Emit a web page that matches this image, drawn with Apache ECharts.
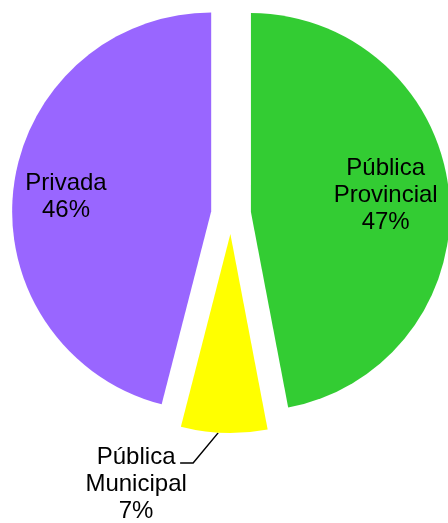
<!DOCTYPE html>
<html>
<head>
<meta charset="utf-8">
<script src="https://cdn.jsdelivr.net/npm/echarts@6/dist/echarts.min.js"></script>
<style>
  html, body { margin: 0; padding: 0; background: #fff; }
  #chart { width: 448px; height: 523px; }
</style>
</head>
<body>
<div id="chart"></div>
<script>
// slices in clockwise order starting at 12 o'clock
const categories = ['Pública\nProvincial', 'Pública\nMunicipal', 'Privada']
const shares = [47, 7, 46]
const colors = ['#33CC33', '#FFFF00', '#9966FF']

const pieCenter = [231, 214]
const pieRadius = 199
const explode = 20

let myChart = echarts.init(document.getElementById('chart'))

let total = shares.reduce(function (a, b) { return a + b }, 0)

// middle angle of a slice, radians clockwise from top
function midAngle (idx) {
  let before = 0
  for (let i = 0; i < idx; i++) before += shares[i]
  return (before + shares[idx] / 2) / total * Math.PI * 2
}

let pieData = categories.map(function (name, i) {
  let item = {
    name: name,
    value: shares[i],
    selected: true,
    itemStyle: { color: colors[i] }
  }
  if (i === 1) {
    // small slice gets its label outside with a leader line
    item.label = { position: 'outside', align: 'center' }
    item.labelLine = {
      show: true,
      length: 20,
      length2: 10,
      lineStyle: { color: '#000', width: 1.5 }
    }
  }
  return item
})

var option = {
  animation: false,
  series: [{
    type: 'pie',
    center: pieCenter,
    radius: pieRadius,
    startAngle: 90,
    clockwise: true,
    selectedMode: 'multiple',
    selectedOffset: explode,
    avoidLabelOverlap: false,
    label: {
      show: true,
      position: 'inside',
      formatter: '{b}\n{c}%',
      color: '#000',
      fontFamily: 'Liberation Sans, Arial, sans-serif',
      fontSize: 24,
      lineHeight: 27,
      align: 'center',
      textBorderWidth: 0
    },
    labelLine: { show: false },
    emphasis: { scale: false },
    labelLayout: function (p) {
      let a = midAngle(p.dataIndex)
      let dir = [Math.sin(a), -Math.cos(a)]
      if (p.dataIndex === 1 && p.labelLinePoints) {
        // leader line: from the outer arc down-left, then a short horizontal tail
        // (points and label rect are in the slice's own, un-exploded frame)
        let s0 = p.labelLinePoints[0]
        let s = [s0[0] - 6, s0[1]]
        let bend = [s[0] - 25, s[1] + 30]
        let end = [bend[0] - 13, bend[1]]
        let lr = p.labelRect
        // anchor of a right-aligned block is its right edge; recentre on it
        let anchorX = p.align === 'center' ? lr.x + lr.width / 2 : lr.x + lr.width
        return {
          align: 'center',
          dx: (end[0] - 44) - anchorX,
          dy: (end[1] - 19) - lr.y,
          labelLinePoints: [s, bend, end]
        }
      }
      // push inside labels further out along the slice bisector
      let push = pieRadius * (p.dataIndex === 0 ? 0.165 : 0.22)
      return { dx: push * dir[0], dy: push * dir[1] + (p.dataIndex === 0 ? -4 : 4) }
    },
    data: pieData
  }]
}

myChart.setOption(option)
</script>
</body>
</html>
